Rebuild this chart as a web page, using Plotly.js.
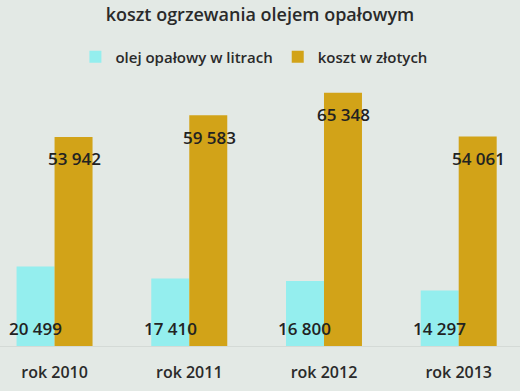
<!DOCTYPE html>
<html>
<head>
<meta charset="utf-8">
<script src="https://cdn.plot.ly/plotly-3.0.1.min.js"></script>
<style>
  html, body { margin: 0; padding: 0; background: #e3e9e5; }
  #chart { width: 520px; height: 391px; }
</style>
</head>
<body>
<div id="chart"></div>
<script>
const categories = ["rok 2010", "rok 2011", "rok 2012", "rok 2013"];
const litres = [20499, 17410, 16800, 14297];
const costs = [53942, 59583, 65348, 54061];
const litresLabels = ["20 499", "17 410", "16 800", "14 297"];
const costsLabels = ["53 942", "59 583", "65 348", "54 061"];
const seriesNames = ["olej opałowy w litrach", "koszt w złotych"];

const FONT = "Open Sans, Noto Sans, sans-serif";
const cyan = "#94eeee";
const gold = "#d2a318";

const traces = [
  { type: "bar", name: seriesNames[0], x: categories, y: litres,
    marker: { color: cyan }, hoverinfo: "none" },
  { type: "bar", name: seriesNames[1], x: categories, y: costs,
    marker: { color: gold }, hoverinfo: "none" }
];

const annotations = [];
categories.forEach((c, i) => {
  annotations.push({ x: i, y: 0, xref: "x", yref: "y", text: litresLabels[i],
    showarrow: false, xshift: -19, yshift: 18, yanchor: "middle",
    font: { family: FONT, size: 17, weight: 600, color: "#222" } });
  annotations.push({ x: i, y: costs[i], xref: "x", yref: "y", text: costsLabels[i],
    showarrow: false, xshift: 20, yshift: -22, yanchor: "middle",
    font: { family: FONT, size: 17, weight: 600, color: "#222" } });
});

const layout = {
  width: 520, height: 391,
  margin: { l: 0, r: 0, t: 80, b: 45 },
  paper_bgcolor: "#e3e9e5",
  plot_bgcolor: "rgba(0,0,0,0)",
  barmode: "group",
  bargap: 0.436,
  bargroupgap: 0,
  title: { text: "koszt ogrzewania olejem opałowym", x: 0.5, xanchor: "center",
    y: 0.962, yanchor: "middle", yref: "container",
    font: { family: FONT, size: 18, weight: 600, color: "#2a2a2a" } },
  showlegend: true,
  legend: { orientation: "h", x: 0.145, xanchor: "left", y: 1.086, yanchor: "middle",
    font: { family: FONT, size: 15, weight: 600, color: "#2a2a2a" }, bgcolor: "rgba(0,0,0,0)",
    itemwidth: 30 },
  xaxis: { type: "category", range: [-0.405, 3.455], showgrid: false, zeroline: false,
    showline: true, linecolor: "#d4dad6", linewidth: 1,
    ticks: "", ticklabelstandoff: 12,
    tickfont: { family: FONT, size: 16, weight: 600, color: "#2a2a2a" }, fixedrange: true },
  yaxis: { range: [0, 68650], visible: false, showgrid: false, zeroline: false, fixedrange: true },
  annotations: annotations
};

Plotly.newPlot("chart", traces, layout, { displayModeBar: false, staticPlot: true });
</script>
</body>
</html>
